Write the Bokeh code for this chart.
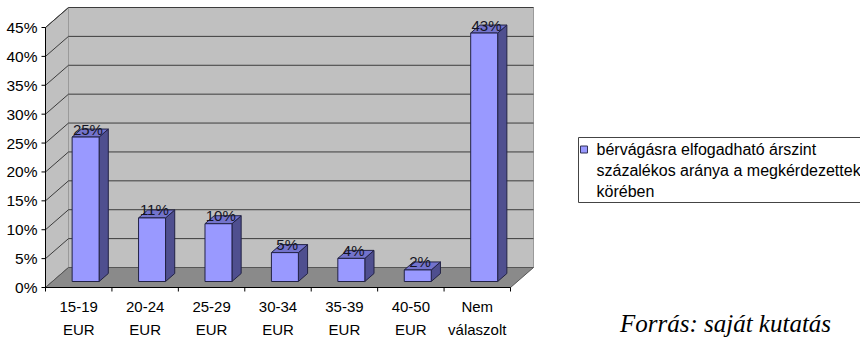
from bokeh.plotting import figure
from bokeh.models import Range1d
from bokeh.core.properties import value
from bokeh.embed import file_html
from bokeh.resources import INLINE

# --- data -------------------------------------------------------------
categories = ["15-19\nEUR", "20-24\nEUR", "25-29\nEUR", "30-34\nEUR",
              "35-39\nEUR", "40-50\nEUR", "Nem\nválaszolt"]
shares = [25, 11, 10, 5, 4, 2, 43]
share_labels = ["25%", "11%", "10%", "5%", "4%", "2%", "43%"]
y_ticks = [0, 5, 10, 15, 20, 25, 30, 35, 40, 45]
y_tick_labels = ["0%", "5%", "10%", "15%", "20%", "25%", "30%", "35%", "40%", "45%"]
legend_lines = ["bérvágásra elfogadható árszint",
                "százalékos aránya a megkérdezettek",
                "körében"]
source_note = "Forrás: saját kutatás"

# --- layout (pixels) --------------------------------------------------
W, H = 860, 342
ORIGIN_X, ORIGIN_Y = 45, 287          # front corner of the value axis at 0%
CAT_PX = 465 / 7                      # width of one category slot
PCT_PX = 260 / 45                     # pixels per percentage point
DEPTH_X_PX, DEPTH_Y_PX = 23, 20       # 3-D depth offset of the back wall

def sx(px):
    return (px - ORIGIN_X) / CAT_PX

def sy(py):
    return (ORIGIN_Y - py) / PCT_PX

DX = DEPTH_X_PX / CAT_PX
DY = DEPTH_Y_PX / PCT_PX
n = len(shares)
ymax = y_ticks[-1]

p = figure(width=W, height=H, output_backend="svg", toolbar_location=None,
           x_range=Range1d(sx(0), sx(W)), y_range=Range1d(sy(H), sy(0)),
           x_axis_type=None, y_axis_type=None, min_border=0)
p.outline_line_color = None
p.background_fill_color = "white"
p.border_fill_color = "white"

FONT = value("Liberation Sans")
WALL = "#c0c0c0"
FLOOR = "#8a8a8a"
GRID = "#3c3c3c"

# walls and floor
p.patches(xs=[[0, DX, DX, 0], [DX, n + DX, n + DX, DX]],
          ys=[[0, DY, ymax + DY, ymax], [DY, DY, ymax + DY, ymax + DY]],
          fill_color=WALL, line_color=["#444444", "#9a9a9a"], line_width=1)
p.patches(xs=[[0, n, n + DX, DX]], ys=[[0, 0, DY, DY]],
          fill_color=FLOOR, line_color="#555555", line_width=1)

# gridlines on back and side walls
gv = [v for v in y_ticks if v > 0]
p.segment(x0=[DX] * len(gv), y0=[v + DY for v in gv],
          x1=[n + DX] * len(gv), y1=[v + DY for v in gv],
          line_color=GRID, line_width=1)
p.segment(x0=[0] * len(gv), y0=gv, x1=[DX] * len(gv), y1=[v + DY for v in gv],
          line_color=GRID, line_width=1)

# front axis lines and ticks
tick_x = 4 / CAT_PX
tick_y = 4 / PCT_PX
p.segment(x0=[0, 0], y0=[0, 0], x1=[0, n], y1=[ymax, 0], line_color="black", line_width=1)
p.segment(x0=[-tick_x] * len(y_ticks), y0=y_ticks, x1=[0] * len(y_ticks), y1=y_ticks,
          line_color="black", line_width=1)
bounds = list(range(n + 1))
p.segment(x0=bounds, y0=[0] * len(bounds), x1=bounds, y1=[-tick_y] * len(bounds),
          line_color="black", line_width=1)

# 3-D bars
hw = 0.203
f0, f1 = 0.3, 0.7
centers = [i + 0.5 for i in range(n)]
side_xs, side_ys, top_xs, top_ys = [], [], [], []
for c, v in zip(centers, shares):
    r0 = c + hw + f0 * DX
    r1 = c + hw + f1 * DX
    l0 = c - hw + f0 * DX
    l1 = c - hw + f1 * DX
    side_xs.append([r0, r1, r1, r0])
    side_ys.append([f0 * DY, f1 * DY, v + f1 * DY, v + f0 * DY])
    top_xs.append([l0, r0, r1, l1])
    top_ys.append([v + f0 * DY, v + f0 * DY, v + f1 * DY, v + f1 * DY])
p.patches(xs=side_xs, ys=side_ys, fill_color="#4f4f8f", line_color="#222244", line_width=1)
p.patches(xs=top_xs, ys=top_ys, fill_color="#7373cc", line_color="#222244", line_width=1)
p.quad(left=[c - hw + f0 * DX for c in centers], right=[c + hw + f0 * DX for c in centers],
       bottom=[f0 * DY] * n, top=[v + f0 * DY for v in shares],
       fill_color="#9999ff", line_color="#222244", line_width=1)

# value labels
p.text(x=[c + 0.4 * DX for c in centers], y=[v + 0.7 * DY for v in shares], text=share_labels,
       text_font=FONT, text_font_size="15px", text_color="#141424",
       text_align="center", text_baseline="middle")

# axis labels
p.text(x=[0] * len(y_ticks), y=y_ticks, text=y_tick_labels, x_offset=-8,
       text_font=FONT, text_font_size="15.5px", text_color="black",
       text_align="right", text_baseline="middle")
p.text(x=centers, y=[0] * n, text=categories, y_offset=10,
       text_font=FONT, text_font_size="15px", text_color="black",
       text_align="center", text_baseline="top", text_line_height=1.4)

# legend
p.quad(left=[sx(578)], right=[sx(W + 10)], top=[sy(137)], bottom=[sy(202)],
       fill_color="white", line_color="#444444", line_width=1)
p.scatter(x=[sx(583.5)], y=[sy(149)], marker="square", size=7,
          fill_color="#9999ff", line_color="#333355")
p.text(x=[sx(596)] * 3, y=[sy(149), sy(170), sy(191)], text=legend_lines,
       text_font=FONT, text_font_size="16px", text_color="black",
       text_align="left", text_baseline="middle")

# source note
p.text(x=[sx(725)], y=[sy(323)], text=[source_note],
       text_font=value("Liberation Serif"), text_font_style="italic",
       text_font_size="25px", text_color="black",
       text_align="center", text_baseline="middle")

open("out.html", "w").write(file_html(p, INLINE))
